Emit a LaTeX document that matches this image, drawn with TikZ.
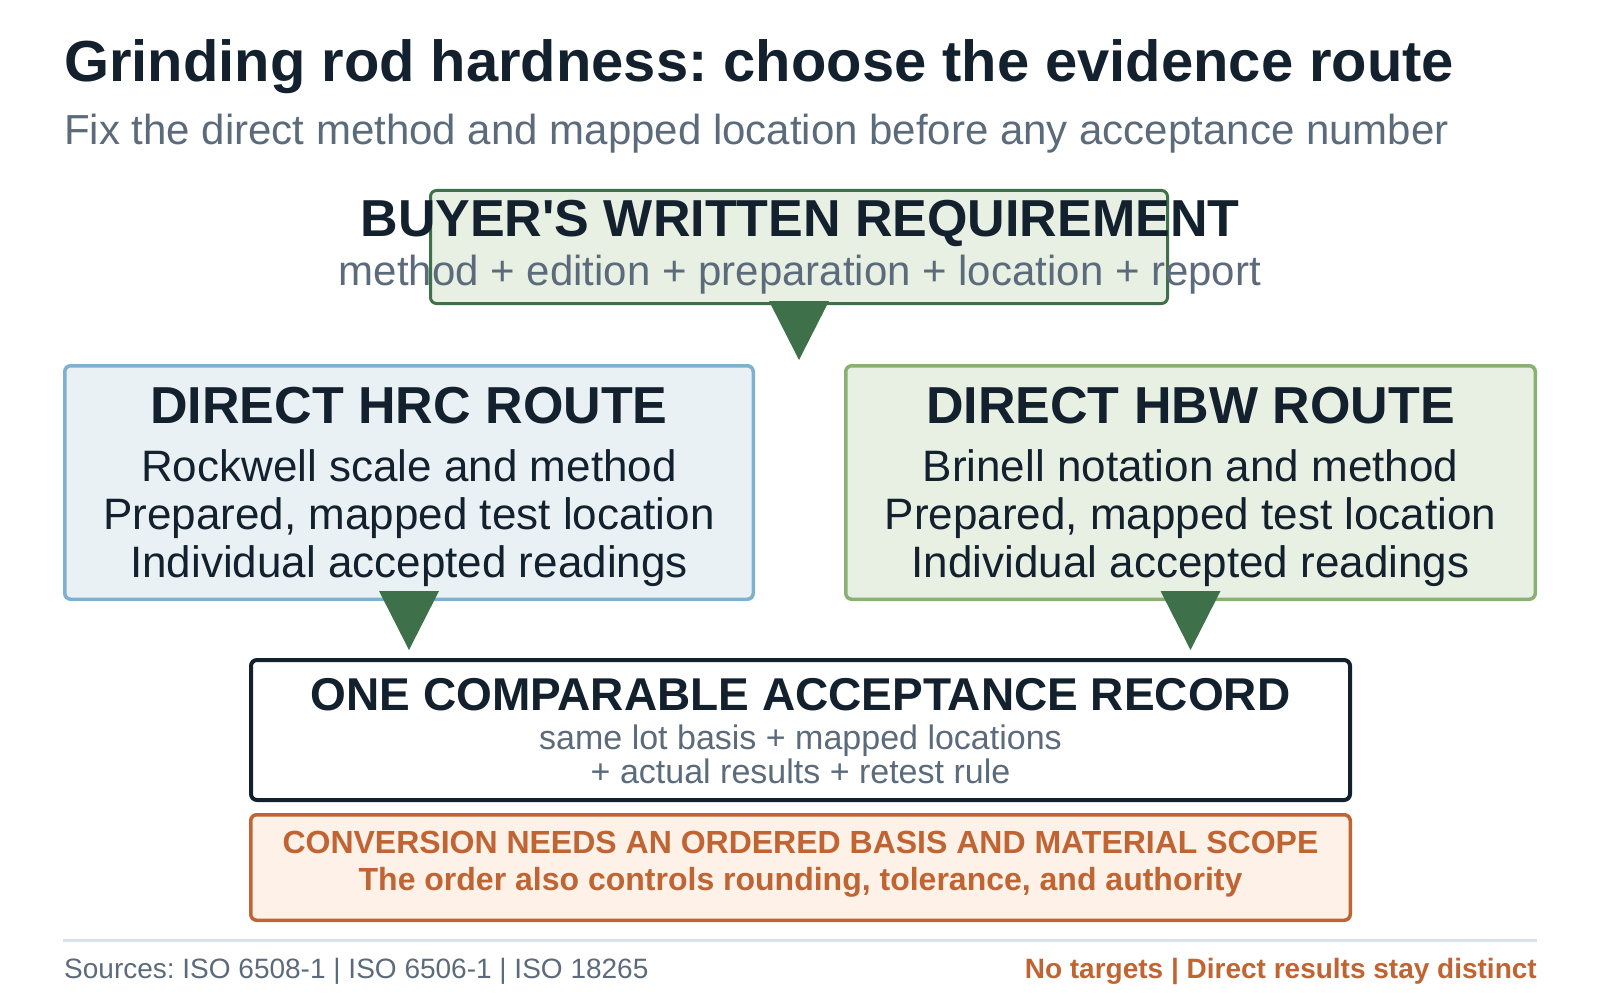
\documentclass[tikz,border=0pt]{standalone}
\usepackage{fontspec}
\setmainfont{Liberation Sans}
\frenchspacing
\definecolor{ink}{HTML}{13202D}
\definecolor{slate}{HTML}{5B6B7B}
\definecolor{grx}{HTML}{3E7049}
\definecolor{grfill}{HTML}{E8EFE3}
\definecolor{blx}{HTML}{7EB0CF}
\definecolor{blfill}{HTML}{E9F1F5}
\definecolor{lgx}{HTML}{8AB174}
\definecolor{orx}{HTML}{BF6432}
\definecolor{orfill}{HTML}{FDF1E8}
\definecolor{rulegray}{HTML}{DBE3EA}
\newcommand{\fs}[1]{\fontsize{#1}{#1}\selectfont}

\tikzset{
  panel/.style={draw, rounded corners=6pt, inner sep=0pt, outer sep=0pt},
  txt/.style={anchor=base, inner sep=0pt, text=ink},
  pointer/.style={fill=grx},
}

\begin{document}
\begin{tikzpicture}[x=1pt,y=-1pt]
            \useasboundingbox (0,0) rectangle (1600,1000);

            \node [txt,anchor=base west,font=\fs{57.9}\bfseries] (title) at (64,82)
                {Grinding rod hardness: choose the evidence route};
            \node [txt,anchor=base west,text=slate,font=\fs{42}] (subtitle) at (64,145)
                {Fix the direct method and mapped location before any acceptance number};

            % panels
            \node [panel,draw=grx,fill=grfill,line width=3pt,minimum width=737pt,minimum height=113pt] (req) at (799,247) {};
            \node [panel,draw=blx,fill=blfill,line width=3.5pt,minimum width=688.5pt,minimum height=233.5pt] (hrc) at (409,482.5) {};
            \node [panel,draw=lgx,fill=grfill,line width=3.5pt,minimum width=689.5pt,minimum height=233.5pt] (hbw) at (1190.5,482.5) {};
            \node [panel,draw=ink,fill=white,line width=4pt,minimum width=1099pt,minimum height=140pt] (rec) at (800.5,730) {};
            \node [panel,draw=orx,fill=orfill,line width=3.5pt,minimum width=1099.5pt,minimum height=105.5pt] (conv) at (800.5,867.5) {};

            \node [txt,font=\fs{52}\bfseries] (reqhead) at (800,237) {BUYER\textquotesingle S WRITTEN REQUIREMENT};
            \node [txt,text=slate,font=\fs{42}] (reqsub) at (800,285)
                {method + edition + preparation + location + report};

            \node [txt,font=\fs{52}\bfseries] (hrchead) at (409,423) {DIRECT HRC ROUTE};
            \node [txt,font=\fs{52}\bfseries] (hbwhead) at (1190.5,423) {DIRECT HBW ROUTE};
            \foreach \t [count=\i] in {Rockwell scale and method,{Prepared, mapped test location},Individual accepted readings} {
                \node [txt,font=\fs{44}] (hrc-\i) at (409,433+48*\i) {\t};
            }
            \foreach \t [count=\i] in {Brinell notation and method,{Prepared, mapped test location},Individual accepted readings} {
                \node [txt,font=\fs{44}] (hbw-\i) at (1190.5,433+48*\i) {\t};
            }

            \node [txt,font=\fs{46}\bfseries] (rechead) at (800.5,710) {ONE COMPARABLE ACCEPTANCE RECORD};
            \node [txt,text=slate,font=\fs{34}] (recsub1) at (800.5,749) {same lot basis + mapped locations};
            \node [txt,text=slate,font=\fs{34}] (recsub2) at (800.5,783) {+ actual results + retest rule};

            \node [txt,text=orx,font=\fs{32}\bfseries] (conv-1) at (800.5,853)
                {CONVERSION NEEDS AN ORDERED BASIS AND MATERIAL SCOPE};
            \node [txt,text=orx,font=\fs{32}\bfseries] (conv-2) at (800.5,890)
                {The order also controls rounding, tolerance, and authority};

            % pointers
            \coordinate (t0) at (req.south |- hrc.north);
            \coordinate (t1) at (hrc.south |- rec.north);
            \coordinate (t2) at (hbw.south |- rec.north);
            \fill [pointer] ([xshift=-30pt,yshift=2.5pt]req.south) -- ([xshift=30pt,yshift=2.5pt]req.south) -- ([yshift=5.75pt]t0) -- cycle;
            \fill [pointer] ([xshift=-30pt,yshift=8.25pt]hrc.south) -- ([xshift=30pt,yshift=8.25pt]hrc.south) -- ([yshift=10pt]t1) -- cycle;
            \fill [pointer] ([xshift=-30pt,yshift=8.25pt]hbw.south) -- ([xshift=30pt,yshift=8.25pt]hbw.south) -- ([yshift=10pt]t2) -- cycle;

            % footer
            \coordinate (ruleL) at (63,940);
            \coordinate (ruleR) at (1537,940);
            \draw [rulegray,line width=3pt] (ruleL) -- (ruleR);
            \node [txt,anchor=base west,text=slate,font=\fs{28}] (sources) at (64,978)
                {Sources: ISO 6508-1 | ISO 6506-1 | ISO 18265};
            \node [txt,anchor=base east,text=orx,font=\fs{28}\bfseries] (note) at (1537,978)
                {No targets | Direct results stay distinct};
        \end{tikzpicture}
\end{document}
